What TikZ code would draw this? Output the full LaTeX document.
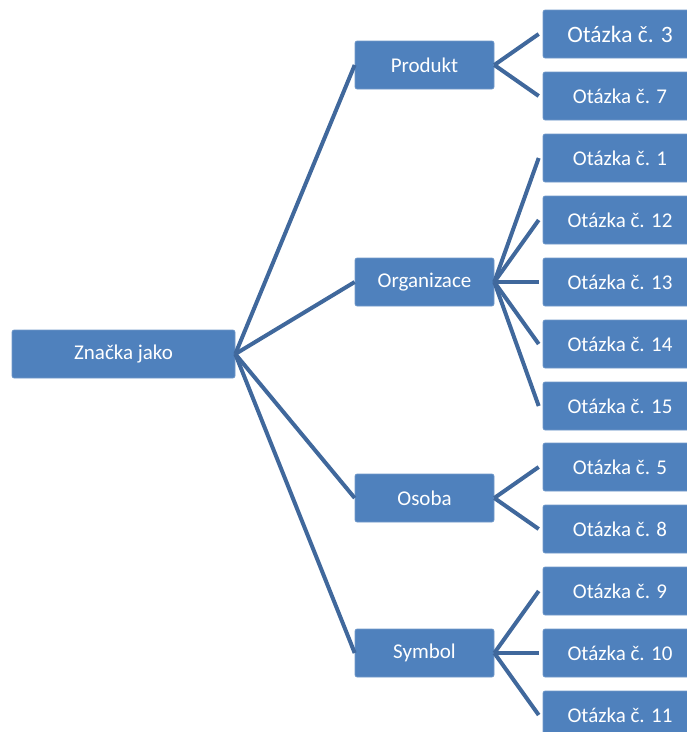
\documentclass[tikz,border=0pt]{standalone}
\usepackage{fontspec}
\setmainfont{Carlito}
\definecolor{boxblue}{RGB}{79,129,189}
\definecolor{linkblue}{RGB}{64,104,156}
\begin{document}
\begin{tikzpicture}[x=1pt,y=-1pt,
  box/.style={rectangle, rounded corners=2pt, fill=boxblue, draw=boxblue!80!white, line width=0.6pt,
    text=white, minimum height=48pt, inner sep=0pt, font=\fontsize{21}{25}\selectfont},
  rootbox/.style={box, minimum width=223pt},
  midbox/.style={box, minimum width=139pt},
  leafbox/.style={box, minimum width=154pt},
  link/.style={draw=linkblue, line width=4pt}]
\useasboundingbox (0,0) rectangle (687,732);
\begin{scope}
\clip (0,0) rectangle (687,732);
\node[rootbox] (root) at (123.5,354) {Značka jako};
\node[midbox] (m1) at (424.5,65) {Produkt};
\node[midbox] (m2) at (424.5,282) {Organizace};
\node[midbox] (m3) at (424.5,498) {Osoba};
\node[midbox] (m4) at (424.5,653) {Symbol};
\node[leafbox, font=\fontsize{23.5}{27}\selectfont] (l3) at (620,34) {Otázka č. 3};
\node[leafbox] (l7) at (620,96) {Otázka č. 7};
\node[leafbox] (l1) at (620,158) {Otázka č. 1};
\node[leafbox] (l12) at (620,220) {Otázka č. 12};
\node[leafbox] (l13) at (620,282) {Otázka č. 13};
\node[leafbox] (l14) at (620,344) {Otázka č. 14};
\node[leafbox] (l15) at (620,406) {Otázka č. 15};
\node[leafbox] (l5) at (620,467) {Otázka č. 5};
\node[leafbox] (l8) at (620,529) {Otázka č. 8};
\node[leafbox] (l9) at (620,591) {Otázka č. 9};
\node[leafbox] (l10) at (620,653) {Otázka č. 10};
\node[leafbox] (l11) at (620,715) {Otázka č. 11};
\foreach \m in {m1,m2,m3,m4} \draw[link] (root.east) -- (\m.west);
\foreach \l in {l3,l7} \draw[link] (m1.east) -- ([xshift=-4pt]\l.west);
\foreach \l in {l1,l12,l13,l14,l15} \draw[link] (m2.east) -- ([xshift=-4pt]\l.west);
\foreach \l in {l5,l8} \draw[link] (m3.east) -- ([xshift=-4pt]\l.west);
\foreach \l in {l9,l10,l11} \draw[link] (m4.east) -- ([xshift=-4pt]\l.west);
\end{scope}
\end{tikzpicture}
\end{document}
